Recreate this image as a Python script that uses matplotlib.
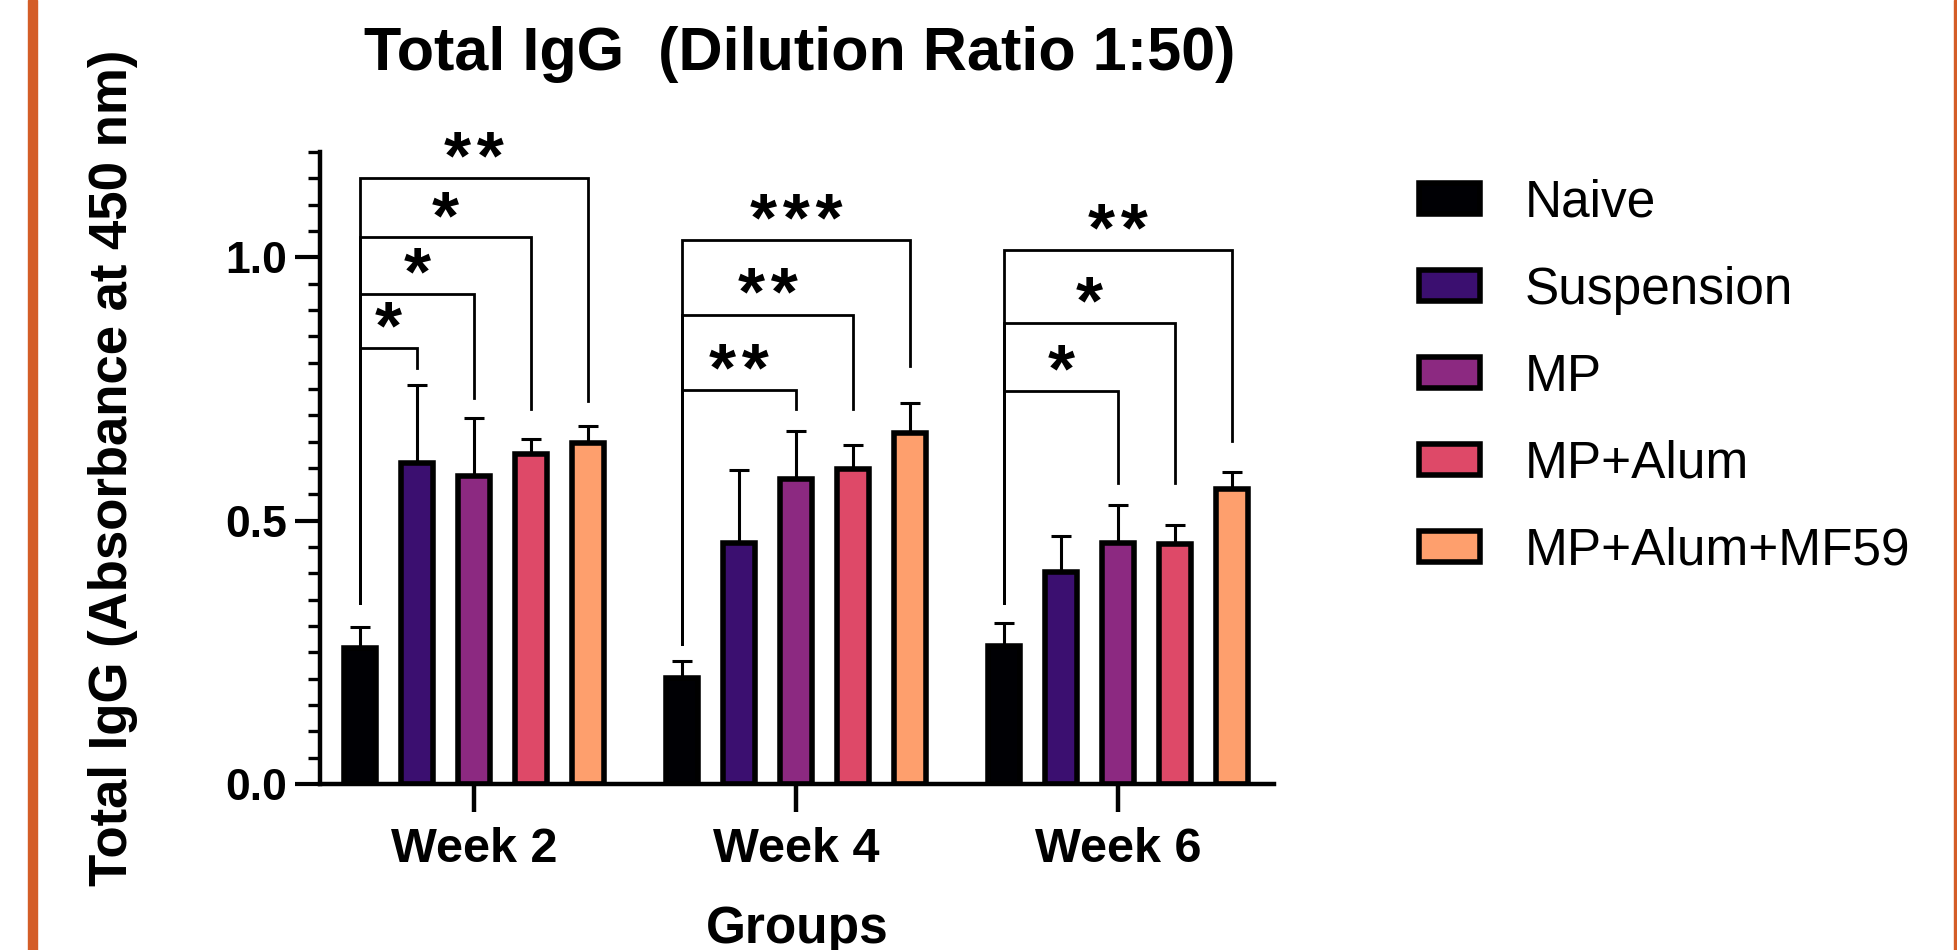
import matplotlib
matplotlib.use('Agg')
import matplotlib.pyplot as plt
import numpy as np
from matplotlib.patches import Rectangle
from matplotlib.ticker import MultipleLocator

plt.rcParams['font.family'] = ['Liberation Sans', 'DejaVu Sans']

weeks = ['Week 2', 'Week 4', 'Week 6']
groups = ['Naive', 'Suspension', 'MP', 'MP+Alum', 'MP+Alum+MF59']
colors = ['#000004', '#3b0f70', '#8c2981', '#de4968', '#fe9f6d']

# mean absorbance, one value per week
mean_naive = [0.259, 0.201, 0.262]
mean_suspension = [0.609, 0.458, 0.402]
mean_mp = [0.584, 0.580, 0.457]
mean_mp_alum = [0.626, 0.599, 0.455]
mean_mp_alum_mf59 = [0.648, 0.666, 0.561]

# upper error (SD)
sd_naive = [0.040, 0.032, 0.044]
sd_suspension = [0.149, 0.138, 0.068]
sd_mp = [0.111, 0.090, 0.073]
sd_mp_alum = [0.029, 0.045, 0.036]
sd_mp_alum_mf59 = [0.032, 0.057, 0.032]

means = [mean_naive, mean_suspension, mean_mp, mean_mp_alum, mean_mp_alum_mf59]
sds = [sd_naive, sd_suspension, sd_mp, sd_mp_alum, sd_mp_alum_mf59]

# significance brackets: every one compares Naive with another group
sig_week = [0, 0, 0, 0, 1, 1, 1, 2, 2, 2]
sig_group = [1, 2, 3, 4, 2, 3, 4, 2, 3, 4]
sig_height = [0.828, 0.931, 1.038, 1.151, 0.748, 0.891, 1.032, 0.747, 0.875, 1.014]
sig_right_end = [0.789, 0.733, 0.712, 0.727, 0.712, 0.712, 0.794, 0.571, 0.571, 0.652]
sig_label = ['*', '*', '*', '**', '**', '**', '***', '*', '*', '**']
sig_left_end = [0.344, 0.266, 0.343]

W, H = 1958, 950
fig = plt.figure(figsize=(W / 100, H / 100), dpi=100)
ax = fig.add_axes([320 / W, 1 - 784 / H, 954 / W, 632 / H])

x = np.arange(len(weeks))
step = 0.177
width = 0.1
offsets = [(i - 2) * step for i in range(len(groups))]

bars = []
for i, name in enumerate(groups):
    b = ax.bar(x + offsets[i], means[i], width, color=colors[i], edgecolor='black',
               linewidth=4, label=name, zorder=2)
    bars.append(b)
    ax.errorbar(x + offsets[i], means[i], yerr=[np.zeros(len(weeks)), sds[i]], fmt='none',
                ecolor='black', elinewidth=2.2, capsize=7.5, capthick=2.2, zorder=3)

for k in range(len(sig_label)):
    w = sig_week[k]
    x0 = x[w] + offsets[0]
    x1 = x[w] + offsets[sig_group[k]]
    h = sig_height[k]
    ax.plot([x0, x0, x1, x1], [sig_left_end[w], h, h, sig_right_end[k]], color='black',
            lw=2.0, solid_joinstyle='miter', clip_on=False, zorder=4)
    # stars a little apart, as in the original
    ax.annotate('\u200a'.join(sig_label[k]), xy=((x0 + x1) / 2, h), xytext=(0, -0.5),
                textcoords='offset points', ha='center', va='baseline', fontsize=50,
                fontweight='bold', annotation_clip=False)

ax.set_xlim(-0.478, 2.484)
ax.set_ylim(0, 1.2)
ax.spines['top'].set_visible(False)
ax.spines['right'].set_visible(False)
ax.spines['left'].set_linewidth(3.2)
ax.spines['bottom'].set_linewidth(3.2)

ax.set_xticks(x)
ax.set_xticklabels(weeks, fontsize=35, fontweight='bold')
ax.yaxis.set_major_locator(MultipleLocator(0.5))
ax.yaxis.set_minor_locator(MultipleLocator(0.05))
ax.set_yticks([0, 0.5, 1.0])
ax.set_yticklabels(['0.0', '0.5', '1.0'], fontsize=32, fontweight='bold')
ax.tick_params(axis='x', length=20, width=3.2, pad=11)
ax.tick_params(axis='y', which='major', length=18, width=3.0, pad=6)
ax.tick_params(axis='y', which='minor', length=8.6, width=2.4)

ax.set_xlabel('Groups', fontsize=37, fontweight='bold')
ax.xaxis.set_label_coords(0.5, (784 - 943) / 632)
ax.xaxis.label.set_va('baseline')
ax.set_ylabel('Total IgG (Absorbance at 450 nm)', fontsize=38, fontweight='bold')
ax.yaxis.set_label_coords((127 - 320) / 954, 0.5)
ax.yaxis.label.set_va('baseline')

fig.text(800 / W, 1 - 70 / H, 'Total IgG  (Dilution Ratio 1:50)', ha='center', va='baseline',
         fontsize=44, fontweight='bold')

fig.legend(handles=bars, loc='upper left', bbox_to_anchor=(1419 / W, 1 - 178.6 / H),
           frameon=False, borderpad=0, borderaxespad=0, fontsize=37, handlelength=1.19,
           handleheight=0.535, handletextpad=0.86, labelspacing=0.74)

# orange frame edges of the slide
orange = '#d45d27'
fig.patches.append(Rectangle((28 / W, 0), 9 / W, 1, transform=fig.transFigure, color=orange))
fig.patches.append(Rectangle((1954 / W, 0), 4 / W, 1, transform=fig.transFigure, color=orange))

fig.savefig('out.png', dpi=100)
